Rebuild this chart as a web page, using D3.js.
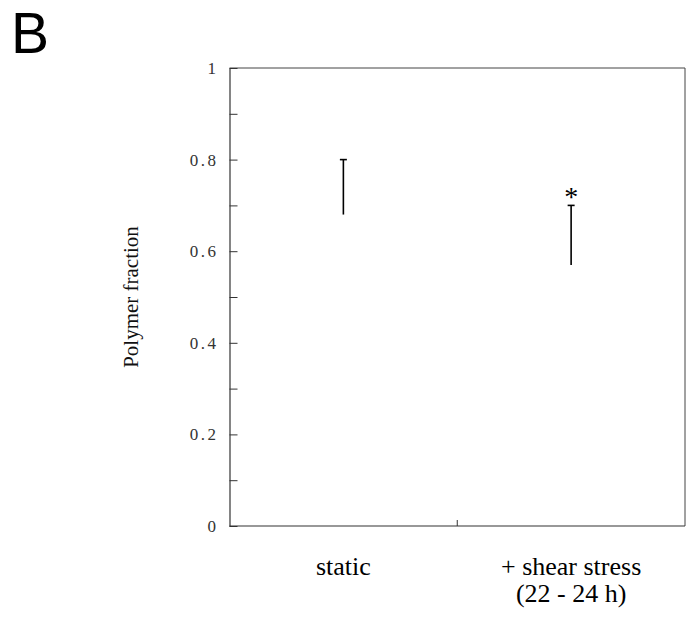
<!DOCTYPE html>
<html>
<head>
<meta charset="utf-8">
<script src="https://cdn.jsdelivr.net/npm/d3@7"></script>
<style>
  html, body { margin: 0; padding: 0; background: #fff; }
  svg { display: block; }
</style>
</head>
<body>
<svg id="chart" width="687" height="620"></svg>
<script>
// ---- data ----
const categories = ["static", "shear"];
const categoryLabels = [["static"], ["+ shear stress", "(22 - 24 h)"]];
const upperValues = [0.80, 0.70];
const lowerValues = [0.68, 0.57];
const significance = ["", "*"];
const yTicks = [0, 0.1, 0.2, 0.3, 0.4, 0.5, 0.6, 0.7, 0.8, 0.9, 1];
const yTickLabels = ["0", "", "0.2", "", "0.4", "", "0.6", "", "0.8", "", "1"];

// ---- layout ----
const svg = d3.select("#chart");
const margin = { left: 229.5, right: 2, top: 68, bottom: 94 };
const W = 687, H = 620;
const x0 = margin.left, x1 = W - margin.right;
const y0 = H - margin.bottom, y1 = margin.top;

const x = d3.scaleBand().domain(categories).range([x0, x1]).padding(0);
const y = d3.scaleLinear().domain([0, 1]).range([y0, y1]);
const serif = "Liberation Serif, Times New Roman, serif";

// panel letter
svg.append("text").attr("x", 11).attr("y", 53)
  .attr("font-family", "Liberation Sans, Arial, sans-serif")
  .attr("font-size", 57).attr("fill", "#000").text("B");

// frame: top and right
svg.append("line").attr("x1", x0).attr("x2", x1).attr("y1", y1).attr("y2", y1)
  .attr("stroke", "#444").attr("stroke-width", 1);
svg.append("line").attr("x1", x1).attr("x2", x1).attr("y1", y1).attr("y2", y0)
  .attr("stroke", "#444").attr("stroke-width", 1);

// y axis
const yAxis = d3.axisLeft(y)
  .tickValues(yTicks)
  .tickSizeInner(-8)
  .tickSizeOuter(0)
  .tickPadding(11)
  .tickFormat((d, i) => yTickLabels[i]);
const gy = svg.append("g").attr("transform", `translate(${x0},0)`).call(yAxis)
  .attr("font-family", serif).attr("font-size", 17);
gy.select(".domain").attr("stroke", "#333").attr("stroke-width", 1.2);
gy.selectAll(".tick line").attr("stroke", "#333").attr("stroke-width", 1);
gy.selectAll(".tick text")
  .style("font-family", serif).style("font-size", "17px")
  .attr("fill", "#333").style("letter-spacing", "2.5px");

// x axis baseline with a single tick between the groups
svg.append("line").attr("x1", x0).attr("x2", x1).attr("y1", y0).attr("y2", y0)
  .attr("stroke", "#333").attr("stroke-width", 1.2);
svg.append("line")
  .attr("x1", x(categories[1])).attr("x2", x(categories[1]))
  .attr("y1", y0).attr("y2", y0 - 6)
  .attr("stroke", "#333").attr("stroke-width", 1);

// y axis title
svg.append("text")
  .attr("transform", `translate(138, ${(y0 + y1) / 2}) rotate(-90)`)
  .attr("text-anchor", "middle")
  .attr("font-family", serif).attr("font-size", 21).attr("fill", "#111")
  .text("Polymer fraction");

// error bars
const cx = d => x(d) + x.bandwidth() / 2;
const bars = svg.append("g").selectAll("g").data(categories).join("g");
bars.append("line")
  .attr("x1", d => cx(d)).attr("x2", d => cx(d))
  .attr("y1", (d, i) => y(lowerValues[i])).attr("y2", (d, i) => y(upperValues[i]))
  .attr("stroke", "#000").attr("stroke-width", 1.6);
bars.append("line")
  .attr("x1", d => cx(d) - 3.5).attr("x2", d => cx(d) + 3.5)
  .attr("y1", (d, i) => y(upperValues[i])).attr("y2", (d, i) => y(upperValues[i]))
  .attr("stroke", "#000").attr("stroke-width", 1.6);
bars.append("text")
  .attr("x", d => cx(d)).attr("y", (d, i) => y(upperValues[i]) + 1)
  .attr("text-anchor", "middle")
  .attr("font-family", serif).attr("font-size", 28).attr("fill", "#000")
  .text((d, i) => significance[i]);

// category labels
const labels = svg.append("g").selectAll("text").data(categories).join("text")
  .attr("text-anchor", "middle")
  .attr("font-family", serif).attr("font-size", 26).attr("fill", "#000");
labels.each(function (d, i) {
  d3.select(this).selectAll("tspan").data(categoryLabels[i]).join("tspan")
    .attr("x", cx(d))
    .attr("y", (t, j) => 575 + j * 27)
    .text(t => t);
});
</script>
</body>
</html>
